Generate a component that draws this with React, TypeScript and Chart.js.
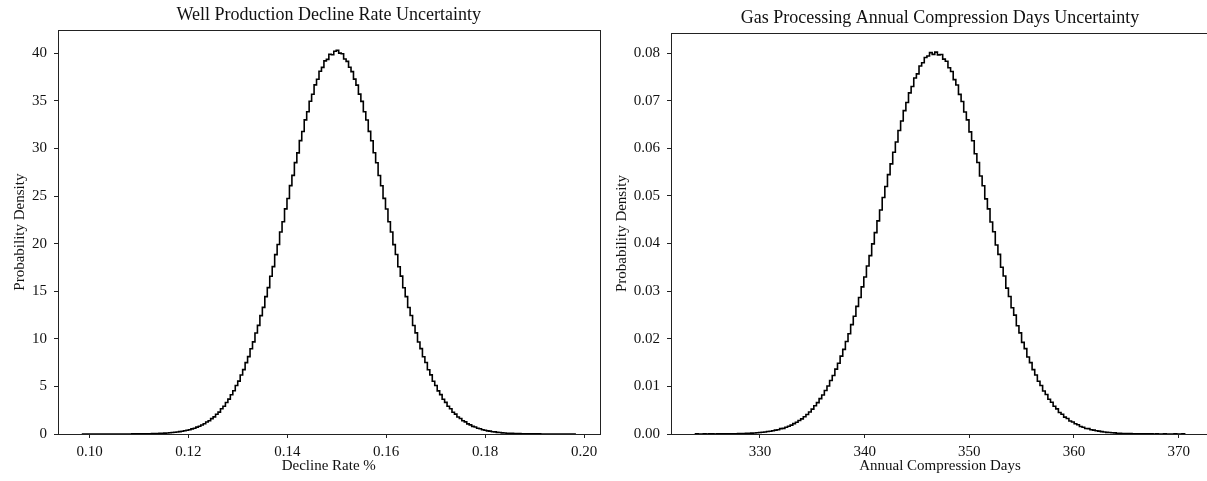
import React, { useEffect, useRef } from "react";
import { Chart, registerables } from "chart.js";

Chart.register(...registerables);

const FONT = "'Liberation Serif', 'Times New Roman', serif";
const TEXT = "#111";
const AXIS = "#222";

// ---- Left panel: Well Production Decline Rate ----
const declineTitle = "Well Production Decline Rate Uncertainty";
const declineXLabel = "Decline Rate %";
const declineBinStart = 0.0986;
const declineBinWidth = 0.000498;
const declineDensity = [
  0.002, 0, 0, 0, 0.002, 0, 0, 0.002, 0, 0.002,
  0.002, 0, 0.002, 0.004, 0.002, 0.002, 0.004, 0.004, 0.006, 0.006,
  0.008, 0.01, 0.012, 0.014, 0.018, 0.02, 0.026, 0.03, 0.036, 0.044,
  0.052, 0.066,
  0.076, 0.09, 0.11, 0.13, 0.15, 0.18, 0.21, 0.25, 0.29, 0.34,
  0.4, 0.45, 0.54, 0.61, 0.72, 0.81, 0.95, 1.07, 1.26, 1.4,
  1.62, 1.8, 2.08, 2.3, 2.65, 2.92, 3.31, 3.66, 4.13, 4.54,
  5.09, 5.56, 6.2, 6.76, 7.5, 8.13, 8.96, 9.68, 10.62, 11.41,
  12.44, 13.31, 14.43, 15.38, 16.58, 17.59, 18.85, 19.91, 21.22, 22.31,
  23.66, 24.75, 26.1, 27.18, 28.52, 29.54, 30.83, 31.79, 33.01, 33.86,
  34.97, 35.7, 36.69, 37.27, 38.11, 38.52, 39.21, 39.36, 39.9, 39.85, 40.22,
  40.31, 40.02, 39.95, 39.41, 39.15, 38.53, 38.08, 37.29, 36.66, 35.71, 34.95,
  33.86, 32.99, 31.8, 30.82, 29.55, 28.5, 27.17, 26.09, 24.76, 23.65,
  22.3, 21.23, 19.9, 18.86, 17.58, 16.59, 15.37, 14.44, 13.3, 12.45,
  11.4, 10.63, 9.67, 8.97, 8.12, 7.51, 6.75, 6.21, 5.55, 5.1,
  4.53, 4.14, 3.65, 3.32, 2.91, 2.66, 2.29, 2.09, 1.79, 1.63,
  1.39, 1.27, 1.06, 0.96, 0.8, 0.73, 0.6, 0.55, 0.45, 0.4,
  0.33, 0.3, 0.24, 0.22, 0.17, 0.16, 0.12, 0.11, 0.08, 0.078,
  0.062, 0.054, 0.042, 0.038, 0.028, 0.026, 0.018, 0.018, 0.012, 0.012,
  0.008, 0.008, 0.006, 0.004, 0.004, 0.002, 0.004, 0.002, 0, 0.002,
  0, 0, 0.002, 0, 0, 0.002,
];
const declineXMin = 0.09363;
const declineXMax = 0.20313;
const declineYMax = 42.42;
const declineXTicks = [0.1, 0.12, 0.14, 0.16, 0.18, 0.2];
const declineYTicks = [0, 5, 10, 15, 20, 25, 30, 35, 40];

// ---- Right panel: Annual Compression Days ----
const daysTitle = "Gas Processing Annual Compression Days Uncertainty";
const daysXLabel = "Annual Compression Days";
const daysBinStart = 323.84;
const daysBinWidth = 0.25124;
const daysDensity = [
  0.00002, 0, 0, 0.00002, 0, 0.00002, 0.00002, 0, 0.00002, 0.00002,
  0.00004, 0.00002, 0.00004, 0.00004, 0.00006, 0.00006, 0.00008, 0.0001, 0.00011, 0.00013,
  0.00015, 0.00019, 0.00021, 0.00027, 0.0003, 0.00037, 0.00041, 0.00051, 0.00058, 0.00068,
  0.00081, 0.00089, 0.00112, 0.00119, 0.00141, 0.00163, 0.00187, 0.00218, 0.00248, 0.00283,
  0.00318, 0.00362, 0.00408, 0.00463, 0.00523, 0.00592, 0.00658, 0.00742, 0.00818, 0.00913,
  0.01008, 0.01124, 0.01228, 0.01363, 0.01485, 0.01636, 0.01776, 0.01943, 0.02104, 0.02296,
  0.02474, 0.02679, 0.02866, 0.03089, 0.03296, 0.03527, 0.03746, 0.03993, 0.04228, 0.04475,
  0.04705, 0.04965, 0.05198, 0.05446, 0.05672, 0.05917, 0.06131, 0.06372, 0.06573, 0.06791,
  0.06962, 0.07163, 0.07296, 0.07476, 0.07561, 0.07728, 0.07795, 0.07905, 0.07936, 0.08008,
  0.07972,
  0.08018, 0.07961, 0.07968, 0.07872, 0.07826, 0.07689, 0.07612, 0.07441, 0.07327, 0.07132,
  0.06983, 0.06761, 0.06596, 0.06343, 0.06157, 0.05884, 0.05701, 0.05418, 0.05214, 0.04938,
  0.04728, 0.04451, 0.04247, 0.03968, 0.03772, 0.03502, 0.03317, 0.03063, 0.02886, 0.02651,
  0.02497, 0.02274, 0.02124, 0.01924, 0.01792, 0.01618, 0.01498, 0.01352, 0.01238, 0.01108,
  0.01018, 0.00902, 0.00828, 0.00731, 0.00668, 0.00582, 0.00528, 0.00453, 0.00416, 0.00354,
  0.00324, 0.00274, 0.00253, 0.00214, 0.00193, 0.00158, 0.00142, 0.00117, 0.00112, 0.00088,
  0.00081, 0.00068, 0.00061, 0.00049, 0.00042, 0.00034, 0.00031, 0.00025, 0.00023, 0.00017,
  0.00016, 0.00012, 0.00012, 0.00008, 0.00008, 0.00005, 0.00006, 0.00004, 0.00003, 0.00004,
  0.00002, 0.00002, 0.00002, 0, 0.00002, 0, 0, 0.00002, 0, 0,
  0, 0.00002, 0, 0, 0.00002,
];
const daysXMin = 321.5;
const daysXMax = 372.9;
const daysYMax = 0.0842;
const daysXTicks = [330, 340, 350, 360, 370];
const daysYTicks = [0, 0.01, 0.02, 0.03, 0.04, 0.05, 0.06, 0.07, 0.08];

const yLabel = "Probability Density";

function stepPoints(start: number, width: number, values: number[]) {
  const pts: { x: number; y: number }[] = [{ x: start, y: 0 }];
  values.forEach((v, i) => {
    pts.push({ x: start + i * width, y: v });
    pts.push({ x: start + (i + 1) * width, y: v });
  });
  pts.push({ x: start + values.length * width, y: 0 });
  return pts;
}

const framePlugin = {
  id: "frame",
  afterDatasetsDraw(chart: any) {
    const { ctx, chartArea } = chart;
    const l = Math.round(chartArea.left) + 0.5;
    const t = Math.round(chartArea.top) + 0.5;
    const r = Math.round(chartArea.right) + 0.5;
    const b = Math.round(chartArea.bottom) + 0.5;
    ctx.save();
    ctx.strokeStyle = AXIS;
    ctx.lineWidth = 1;
    ctx.strokeRect(l, t, r - l, b - t);
    ctx.restore();
  },
};

interface PanelCfg {
  title: string;
  xLabel: string;
  binStart: number;
  binWidth: number;
  values: number[];
  xMin: number;
  xMax: number;
  yMax: number;
  xTicks: number[];
  yTicks: number[];
  xFmt: (v: number) => string;
  yFmt: (v: number) => string;
  yAxisWidth: number;
  rightPad: number;
  titlePad: { top: number; bottom: number };
  yTitlePad: number;
}

function makeChart(canvas: HTMLCanvasElement, c: PanelCfg) {
  const tickFont = { family: FONT, size: 15 };
  return new Chart(canvas, {
    type: "line",
    data: {
      datasets: [
        {
          data: stepPoints(c.binStart, c.binWidth, c.values),
          borderColor: "#000",
          borderWidth: 1.6,
          pointRadius: 0,
          fill: false,
          tension: 0,
        },
      ],
    },
    options: {
      animation: false,
      responsive: false,
      devicePixelRatio: 1,
      layout: { padding: { left: 0, right: c.rightPad, top: 0, bottom: 0 } },
      plugins: {
        legend: { display: false },
        tooltip: { enabled: false },
        title: {
          display: true,
          fullSize: false,
          text: c.title,
          color: TEXT,
          font: { family: FONT, size: 18, weight: "normal" },
          padding: c.titlePad,
        },
      },
      scales: {
        x: {
          type: "linear",
          min: c.xMin,
          max: c.xMax,
          afterBuildTicks: (s: any) => {
            s.ticks = c.xTicks.map((v) => ({ value: v }));
          },
          afterFit: (s: any) => {
            s.height = 47;
          },
          ticks: {
            color: TEXT,
            font: tickFont,
            padding: 5,
            maxRotation: 0,
            autoSkip: false,
            callback: (v: any) => c.xFmt(Number(v)),
          },
          grid: {
            display: true,
            drawOnChartArea: false,
            drawTicks: true,
            tickLength: 4,
            color: AXIS,
          },
          border: { display: false },
          title: {
            display: true,
            text: c.xLabel,
            color: TEXT,
            font: { family: FONT, size: 15 },
            padding: { top: 0, bottom: 6 },
          },
        },
        y: {
          type: "linear",
          min: 0,
          max: c.yMax,
          afterBuildTicks: (s: any) => {
            s.ticks = c.yTicks.map((v) => ({ value: v }));
          },
          afterFit: (s: any) => {
            s.width = c.yAxisWidth;
          },
          ticks: {
            color: TEXT,
            font: tickFont,
            padding: 7,
            autoSkip: false,
            callback: (v: any) => c.yFmt(Number(v)),
          },
          grid: {
            display: true,
            drawOnChartArea: false,
            drawTicks: true,
            tickLength: 4,
            color: AXIS,
          },
          border: { display: false },
          title: {
            display: true,
            text: yLabel,
            color: TEXT,
            font: { family: FONT, size: 15 },
            padding: { top: c.yTitlePad, bottom: 0 },
          },
        },
      },
    },
    plugins: [framePlugin],
  } as any);
}

export default function App() {
  const leftRef = useRef<HTMLCanvasElement>(null);
  const rightRef = useRef<HTMLCanvasElement>(null);

  useEffect(() => {
    const left = makeChart(leftRef.current!, {
      title: declineTitle,
      xLabel: declineXLabel,
      binStart: declineBinStart,
      binWidth: declineBinWidth,
      values: declineDensity,
      xMin: declineXMin,
      xMax: declineXMax,
      yMax: declineYMax,
      xTicks: declineXTicks,
      yTicks: declineYTicks,
      xFmt: (v) => v.toFixed(2),
      yFmt: (v) => String(Math.round(v)),
      yAxisWidth: 58,
      rightPad: 7.5,
      titlePad: { top: 4, bottom: 4.7 },
      yTitlePad: 11,
    });
    const right = makeChart(rightRef.current!, {
      title: daysTitle,
      xLabel: daysXLabel,
      binStart: daysBinStart,
      binWidth: daysBinWidth,
      values: daysDensity,
      xMin: daysXMin,
      xMax: daysXMax,
      yMax: daysYMax,
      xTicks: daysXTicks,
      yTicks: daysYTicks,
      xFmt: (v) => String(Math.round(v)),
      yFmt: (v) => v.toFixed(2),
      yAxisWidth: 64,
      rightPad: 10,
      titlePad: { top: 7, bottom: 4.4 },
      yTitlePad: 6,
    });
    return () => {
      left.destroy();
      right.destroy();
    };
  }, []);

  return (
    <div
      style={{
        position: "absolute",
        left: 0,
        top: 0,
        width: 1207,
        height: 481,
        overflow: "hidden",
        background: "#fff",
      }}
    >
      <canvas
        ref={leftRef}
        width={607}
        height={481}
        style={{ position: "absolute", left: 0, top: 0, width: 607, height: 481 }}
      />
      <canvas
        ref={rightRef}
        width={612}
        height={481}
        style={{ position: "absolute", left: 607, top: 0, width: 612, height: 481 }}
      />
    </div>
  );
}
